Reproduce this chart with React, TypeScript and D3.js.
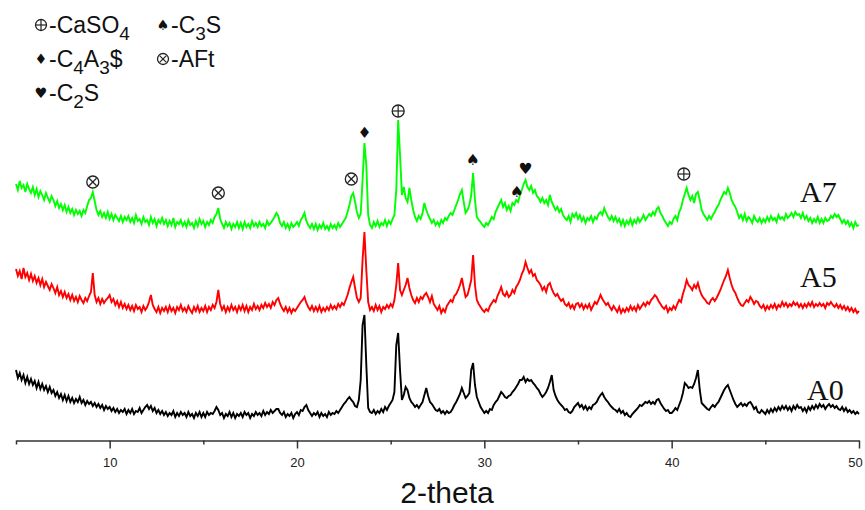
import React, { useEffect, useRef } from "react";
import * as d3 from "d3";

// step scan, 2-theta from 5 to 50 deg
const thetaStart = 5;
const thetaStep = 0.1;

// intensities (arb. units), one line = 1 deg
const a7 = [
  66, 60, 69, 62, 65, 58, 66, 61, 57, 63,
  55, 61, 53, 59, 55, 50, 57, 52, 48, 54,
  50, 44, 49, 42, 46, 40, 45, 38, 43, 37,
  41, 35, 40, 36, 39, 34, 40, 37, 44, 50,
  52, 58, 49, 40, 35, 39, 33, 37, 32, 38,
  31, 36, 30, 35, 32, 29, 34, 28, 33, 30,
  34, 28, 32, 27, 35, 29, 31, 26, 33, 28,
  30, 25, 33, 27, 31, 24, 30, 27, 32, 26,
  30, 24, 29, 25, 32, 23, 28, 26, 30, 24,
  28, 23, 30, 25, 27, 22, 29, 24, 31, 26,
  29, 23, 28, 25, 30, 27, 33, 36, 42, 31,
  26, 22, 28, 24, 27, 21, 26, 23, 28, 22,
  27, 21, 28, 23, 26, 22, 29, 24, 27, 23,
  28, 24, 26, 22, 29, 25, 27, 30, 33, 37,
  34, 27, 24, 28, 22, 26, 21, 27, 23, 25,
  28, 24, 30, 33, 37, 29, 25, 22, 26, 21,
  26, 20, 25, 22, 27, 21, 24, 20, 26, 22,
  25, 21, 27, 23, 26, 29, 32, 38, 45, 54,
  57, 48, 38, 32, 36, 70, 107, 85, 35, 25,
  22, 28, 24, 29, 23, 27, 25, 30, 24, 29,
  26, 31, 35, 60, 130, 95, 55, 63, 52, 48,
  62, 50, 40, 33, 29, 34, 31, 37, 47, 40,
  35, 31, 27, 30, 25, 28, 24, 30, 27, 32,
  30, 34, 37, 35, 40, 45, 50, 56, 60, 48,
  37, 40, 45, 55, 77, 50, 33, 30, 28, 25,
  23, 27, 25, 29, 33, 31, 38, 42, 46, 50,
  43, 47, 40, 44, 39, 47, 45, 50, 48, 55,
  60, 66, 70, 63, 60, 64, 57, 60, 54, 52,
  48, 52, 47, 50, 45, 55, 48, 44, 40, 43,
  38, 41, 35, 32, 30, 34, 28, 36, 33, 37,
  31, 35, 29, 33, 27, 32, 30, 34, 28, 33,
  31, 36, 38, 35, 42, 37, 33, 30, 34, 29,
  33, 28, 31, 25, 30, 24, 29, 26, 31, 25,
  30, 27, 32, 28, 31, 35, 30, 33, 36, 34,
  38, 35, 41, 43, 37, 34, 30, 27, 24, 28,
  26, 31, 34, 30, 38, 42, 50, 56, 62, 55,
  50, 54, 47, 56, 58, 50, 40, 36, 33, 30,
  34, 31, 35, 38, 42, 45, 50, 54, 58, 56,
  62, 57, 50, 46, 43, 38, 32, 35, 30, 36,
  29, 33, 31, 27, 34, 30, 28, 32, 27, 31,
  28, 33, 29, 34, 30, 32, 28, 35, 31, 33,
  30, 36, 32, 34, 37, 33, 38, 35, 36, 32,
  37, 31, 34, 29, 32, 27, 31, 28, 33, 27,
  31, 27, 32, 29, 30, 34, 32, 36, 33, 35,
  31, 27, 30, 26, 29, 24, 27, 22, 28, 24,
  25,
];

const a5 = [
  71, 64, 69, 61, 72, 63, 67, 60, 66, 59,
  64, 57, 62, 55, 61, 53, 58, 54, 50, 56,
  52, 47, 53, 45, 49, 43, 48, 42, 46, 40,
  45, 39, 43, 38, 44, 40, 37, 42, 39, 44,
  48, 67, 45, 38, 42, 36, 41, 37, 40, 42,
  45, 38, 41, 35, 39, 33, 38, 32, 36, 31,
  35, 30, 34, 29, 35, 31, 33, 28, 34, 30,
  33, 38, 45, 35, 31, 28, 33, 27, 32, 29,
  33, 28, 34, 29, 32, 27, 33, 30, 35, 29,
  32, 28, 34, 30, 27, 33, 29, 34, 28, 32,
  29, 34, 28, 33, 30, 35, 32, 38, 50, 36,
  30, 34, 28, 33, 29, 35, 30, 33, 28, 34,
  30, 35, 29, 34, 28, 33, 30, 36, 31, 34,
  30, 35, 32, 37, 33, 36, 32, 38, 35, 40,
  42, 36, 32, 29, 33, 28, 32, 27, 31, 29,
  32, 35, 38, 40, 43, 37, 33, 30, 34, 29,
  33, 29, 34, 28, 32, 29, 33, 30, 35, 31,
  34, 31, 36, 33, 37, 35, 40, 45, 52, 58,
  63, 52, 42, 38, 42, 80, 108, 70, 38, 30,
  33, 29, 35, 30, 34, 28, 33, 31, 35, 32,
  36, 33, 40, 55, 77, 50, 45, 50, 55, 62,
  52, 45, 40, 37, 42, 38, 43, 41, 45, 47,
  43, 38, 44, 36, 33, 30, 34, 27, 31, 28,
  34, 37, 40, 38, 44, 46, 50, 55, 62, 52,
  43, 45, 52, 60, 85, 55, 40, 36, 33, 30,
  28, 31, 29, 34, 37, 40, 38, 44, 48, 53,
  46, 44, 48, 43, 45, 50, 47, 53, 56, 60,
  66, 70, 78, 72, 67, 70, 64, 66, 60, 58,
  55, 50, 53, 48, 55, 57, 51, 47, 44, 46,
  42, 39, 41, 36, 34, 37, 32, 35, 31, 36,
  37, 33, 36, 31, 35, 32, 36, 30, 34, 38,
  36, 40, 45, 41, 38, 35, 37, 33, 30, 34,
  31, 28, 33, 27, 31, 28, 32, 29, 34, 30,
  33, 29, 35, 31, 34, 37, 34, 38, 36, 40,
  42, 45, 43, 39, 36, 33, 31, 34, 28, 32,
  30, 34, 31, 36, 40, 38, 46, 52, 60, 55,
  53, 50, 55, 52, 57, 50, 45, 42, 40, 37,
  36, 40, 42, 39, 42, 46, 50, 55, 60, 64,
  70, 62, 55, 50, 47, 42, 38, 35, 34, 37,
  40, 38, 43, 40, 36, 39, 38, 34, 32, 35,
  30, 34, 31, 35, 32, 36, 31, 35, 33, 38,
  34, 37, 33, 36, 34, 38, 35, 37, 33, 36,
  32, 36, 33, 37, 34, 38, 33, 36, 34, 37,
  34, 36, 32, 37, 35, 38, 35, 33, 36, 32,
  35, 31, 34, 30, 33, 29, 32, 28, 31, 27,
  29,
];

const a0 = [
  70, 62, 67, 60, 65, 57, 63, 56, 61, 55,
  59, 52, 58, 51, 56, 50, 54, 48, 53, 47,
  50, 44, 48, 42, 46, 40, 45, 39, 44, 38,
  42, 37, 41, 38, 43, 37, 40, 35, 39, 36,
  38, 34, 37, 33, 36, 32, 35, 30, 34, 31,
  33, 29, 32, 28, 31, 27, 30, 28, 31, 26,
  30, 27, 31, 26, 29, 28, 32, 27, 30, 33,
  35, 31, 34, 29, 32, 27, 30, 26, 29, 25,
  28, 24, 27, 25, 29, 23, 27, 24, 28, 25,
  27, 23, 28, 24, 26, 22, 27, 24, 28, 23,
  27, 23, 28, 25, 27, 26, 29, 33, 30, 25,
  27, 22, 26, 24, 28, 23, 27, 22, 26, 24,
  27, 23, 28, 25, 27, 22, 26, 24, 28, 25,
  27, 24, 29, 25, 28, 26, 30, 27, 29, 31,
  31, 27, 25, 28, 23, 26, 24, 27, 22, 26,
  28, 25, 30, 29, 33, 35, 30, 27, 24, 27,
  25, 28, 23, 27, 24, 26, 23, 28, 25, 27,
  26, 29, 27, 30, 33, 36, 38, 41, 43, 40,
  38, 34, 33, 40, 60, 115, 125, 75, 32, 28,
  27, 30, 26, 29, 27, 31, 28, 33, 30, 34,
  37, 40, 48, 95, 107, 70, 40, 45, 53, 50,
  42, 38, 36, 33, 35, 32, 35, 38, 45, 52,
  44, 38, 36, 33, 30, 29, 31, 27, 29, 26,
  29, 27, 28, 31, 35, 38, 42, 46, 52, 47,
  42, 44, 47, 70, 77, 55, 43, 38, 33, 30,
  27, 29, 27, 31, 30, 35, 38, 40, 44, 48,
  46, 43, 42, 44, 45, 48, 50, 53, 56, 60,
  60, 63, 58, 61, 59, 60, 57, 55, 52, 50,
  46, 43, 45, 48, 52, 58, 65, 50, 44, 40,
  37, 35, 33, 30, 31, 28, 27, 29, 33, 35,
  37, 33, 35, 31, 34, 30, 33, 31, 35, 36,
  38, 42, 45, 47, 43, 40, 38, 35, 33, 31,
  30, 28, 31, 27, 29, 25, 27, 24, 23, 26,
  28, 30, 32, 35, 34, 36, 38, 37, 39, 36,
  38, 36, 40, 41, 37, 34, 31, 29, 30, 27,
  27, 29, 32, 30, 35, 40, 47, 57, 55, 52,
  53, 52, 56, 62, 70, 50, 37, 35, 33, 31,
  30, 33, 35, 33, 36, 38, 42, 46, 50, 53,
  55, 50, 45, 40, 36, 33, 35, 37, 34, 36,
  34, 37, 38, 35, 31, 33, 28, 27, 30, 28,
  26, 30, 27, 31, 28, 32, 29, 33, 30, 34,
  31, 34, 30, 33, 29, 34, 31, 35, 32, 33,
  29, 32, 28, 33, 30, 34, 31, 35, 32, 36,
  33, 35, 31, 34, 36, 33, 35, 32, 34, 31,
  30, 33, 29, 32, 28, 30, 27, 29, 26, 28,
  26,
];

const seriesData = [a0, a5, a7];
const seriesNames = ["A0", "A5", "A7"];
const seriesColors = ["#000000", "#ff0000", "#00ff00"];
const seriesOffsets = [0, 100, 190];

const xTicks = [10, 20, 30, 40, 50];
const xMinorTicks = [5, 15, 25, 35, 45];

// phase markers above the peaks
const peakSymbols = ["otimes", "otimes", "otimes", "diamond", "oplus", "spade", "spade", "heart", "oplus"];
const peakTheta = [9.1, 15.8, 22.9, 23.6, 25.4, 29.4, 31.75, 32.2, 40.65];
const peakHeight = [258, 247, 261, 307, 329, 280, 248, 271, 266];

const legendSymbols = ["oplus", "spade", "diamond", "otimes", "heart"];
const legendLabels = [
  [["-CaSO", 0], ["4", 1]],
  [["-C", 0], ["3", 1], ["S", 0]],
  [["-C", 0], ["4", 1], ["A", 0], ["3", 1], ["$", 0]],
  [["-AFt", 0]],
  [["-C", 0], ["2", 1], ["S", 0]],
];

const glyphs: Record<string, string> = { diamond: "\u2666", spade: "\u2660", heart: "\u2665" };

function drawSymbol(g: any, sym: string, cx: number, cy: number, r: number) {
  if (sym === "oplus" || sym === "otimes") {
    g.append("circle")
      .attr("cx", cx).attr("cy", cy).attr("r", r)
      .attr("fill", "white").attr("stroke", "#222").attr("stroke-width", 1.3);
    const k = sym === "oplus" ? r : r * 0.62;
    const segs =
      sym === "oplus"
        ? [[-k, 0, k, 0], [0, -k, 0, k]]
        : [[-k, -k, k, k], [-k, k, k, -k]];
    segs.forEach((s) =>
      g.append("line")
        .attr("x1", cx + s[0]).attr("y1", cy + s[1])
        .attr("x2", cx + s[2]).attr("y2", cy + s[3])
        .attr("stroke", "#222").attr("stroke-width", 1.2)
    );
  } else {
    g.append("text")
      .attr("x", cx).attr("y", cy)
      .attr("text-anchor", "middle")
      .attr("dominant-baseline", "central")
      .attr("font-family", "DejaVu Sans, sans-serif")
      .attr("font-size", r * 2.6)
      .attr("fill", "#111")
      .text(glyphs[sym]);
  }
}

const App = () => {
  const ref = useRef<SVGSVGElement>(null);

  useEffect(() => {
    document.body.style.margin = "0";
    const width = 865;
    const height = 510;

    const svg = d3.select(ref.current).attr("width", width).attr("height", height);
    svg.selectAll("*").remove();
    svg.append("rect").attr("width", width).attr("height", height).attr("fill", "white");

    const x = d3.scaleLinear().domain([5, 50]).range([16, 859]);
    const y = d3.scaleLinear().domain([0, 420]).range([440, 20]);

    seriesData.forEach((vals, si) => {
      const line = d3
        .line<number>()
        .x((d, i) => x(thetaStart + i * thetaStep))
        .y((d) => y(d + seriesOffsets[si]));
      svg
        .append("path")
        .datum(vals)
        .attr("fill", "none")
        .attr("stroke", seriesColors[si])
        .attr("stroke-width", 1.9)
        .attr("d", line);
    });

    // axis
    const ax = svg
      .append("g")
      .attr("transform", `translate(0,${y(0) + 0.5})`)
      .call(d3.axisBottom(x).tickValues(xTicks).tickSize(8).tickSizeOuter(0).tickPadding(9));
    ax.select(".domain").attr("stroke", "#333").attr("stroke-width", 1.5);
    ax.selectAll(".tick line").attr("stroke", "#333").attr("stroke-width", 1.5);
    ax.selectAll(".tick text")
      .attr("font-family", "Liberation Sans Narrow, Arial, Liberation Sans, sans-serif")
      .attr("font-size", 13)
      .attr("fill", "#222")
      .attr("dx", (d: any) => (d === 50 ? -4 : 0));

    const minor = svg
      .append("g")
      .attr("transform", `translate(0,${y(0) + 0.5})`)
      .call(d3.axisBottom(x).tickValues(xMinorTicks).tickSize(4).tickFormat(() => ""));
    minor.select(".domain").remove();
    minor.selectAll(".tick line").attr("stroke", "#333").attr("stroke-width", 1.5);

    svg
      .append("text")
      .attr("x", 447)
      .attr("y", 503)
      .attr("text-anchor", "middle")
      .attr("font-family", "Liberation Sans Narrow, Arial, Liberation Sans, sans-serif")
      .attr("font-size", 30)
      .attr("fill", "#111")
      .text("2-theta");

    // series labels
    const labelPos = [[807, 400], [800, 287], [800, 202]];
    seriesNames.forEach((n, i) => {
      svg
        .append("text")
        .attr("x", labelPos[i][0])
        .attr("y", labelPos[i][1])
        .attr("font-family", "Liberation Serif, Times New Roman, serif")
        .attr("font-size", 30)
        .attr("fill", "#111")
        .text(n);
    });

    // peak markers
    const marks = svg.append("g");
    peakSymbols.forEach((s, i) => {
      drawSymbol(marks, s, x(peakTheta[i]), y(peakHeight[i]), 6);
    });

    // legend
    const leg = svg.append("g");
    const colX = [35, 157];
    const rowY = [33, 67, 101];
    legendSymbols.forEach((s, i) => {
      const cx = colX[i % 2];
      const by = rowY[Math.floor(i / 2)];
      drawSymbol(leg, s, cx + 6, by - 8, 5.5);
      const t = leg
        .append("text")
        .attr("x", cx + 14)
        .attr("y", by)
        .attr("font-family", "Arial, Liberation Sans, sans-serif")
        .attr("font-size", 23)
        .attr("fill", "#111");
      let low = false;
      (legendLabels[i] as [string, number][]).forEach(([str, sub]) => {
        const ts = t.append("tspan").text(str);
        if (sub && !low) { ts.attr("dy", 7).attr("font-size", 19); low = true; }
        else if (sub) ts.attr("font-size", 19);
        else if (low) { ts.attr("dy", -7); low = false; }
      });
    });
  }, []);

  return <svg ref={ref} style={{ display: "block" }}></svg>;
};

export default App;
